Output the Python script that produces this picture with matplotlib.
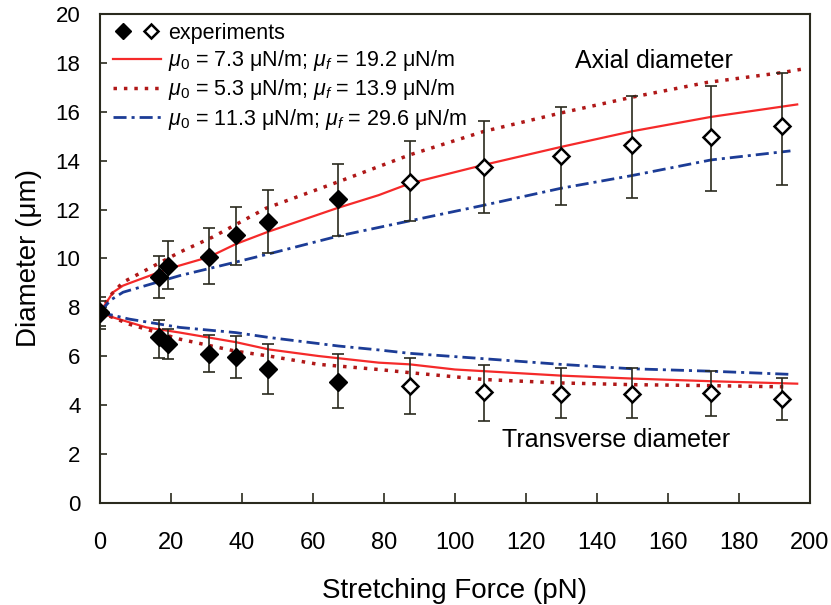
import numpy as np
import matplotlib
matplotlib.use('Agg')
import matplotlib.pyplot as plt
from matplotlib.lines import Line2D
from matplotlib.legend_handler import HandlerTuple

plt.rcParams['font.family'] = ['Liberation Sans', 'DejaVu Sans']
plt.rcParams['mathtext.fontset'] = 'custom'
plt.rcParams['mathtext.it'] = 'Liberation Sans:italic'
plt.rcParams['mathtext.rm'] = 'Liberation Sans'

# mesures (force en pN, diametres en um)
force = [0, 16.5, 19.3, 30.7, 38.4, 47.3, 67.0, 87.3, 108.2, 129.8, 149.8, 172.1, 192.1]
axial = [7.82, 9.23, 9.71, 10.08, 10.97, 11.5, 12.42, 13.14, 13.76, 14.21, 14.65, 14.97, 15.41]
axial_lo = [7.24, 8.38, 8.75, 8.96, 9.75, 10.23, 10.92, 11.54, 11.87, 12.18, 12.49, 12.76, 13.0]
axial_hi = [8.44, 10.1, 10.7, 11.26, 12.11, 12.81, 13.87, 14.79, 15.61, 16.2, 16.65, 17.05, 17.6]
trans = [7.78, 6.77, 6.49, 6.11, 5.98, 5.49, 4.95, 4.77, 4.53, 4.46, 4.46, 4.50, 4.25]
trans_lo = [7.11, 5.95, 5.90, 5.35, 5.12, 4.47, 3.87, 3.65, 3.36, 3.47, 3.47, 3.57, 3.40]
trans_hi = [8.27, 7.49, 7.11, 6.86, 6.83, 6.52, 6.08, 5.91, 5.64, 5.53, 5.53, 5.39, 5.12]
n_filled = 7  # les 7 premiers points en symboles pleins

# simulations, diametre axial
ax_red_f = [0, 3.7, 6.5, 8.3, 19.3, 30.7, 38.4, 47.3, 67.0, 78.5, 87.3, 108.2, 129.8, 149.8, 172.1, 196.4]
ax_red_d = [7.8, 8.62, 8.89, 8.99, 9.58, 10.06, 10.6, 11.09, 12.07, 12.59, 13.07, 13.83, 14.56, 15.2, 15.79, 16.3]
ax_dot_f = [0, 3.0, 6.5, 22.5, 31.8, 46.7, 67.2, 87.3, 108.2, 129.8, 150.0, 171.0, 192.0, 198.0]
ax_dot_d = [7.8, 8.5, 9.03, 10.26, 10.88, 12.05, 13.14, 14.24, 15.2, 15.95, 16.6, 17.2, 17.6, 17.75]
ax_blue_f = [0, 3.0, 6.5, 22.5, 38.2, 47.6, 67.2, 87.3, 108.2, 129.8, 149.8, 172.1, 194.5]
ax_blue_d = [7.8, 8.3, 8.62, 9.3, 9.85, 10.19, 10.92, 11.54, 12.18, 12.87, 13.39, 14.03, 14.4]

# simulations, diametre transverse
tr_red_f = [0, 3.7, 13.1, 22.5, 38.2, 47.6, 61.6, 78.5, 87.3, 100.0, 129.8, 149.8, 172.1, 196.4]
tr_red_d = [7.8, 7.59, 7.18, 6.97, 6.58, 6.28, 6.01, 5.74, 5.67, 5.46, 5.21, 5.09, 4.98, 4.88]
tr_dot_f = [0, 8.3, 22.5, 38.2, 47.6, 61.6, 78.5, 87.3, 108.2, 129.8, 149.8, 172.1, 192.7]
tr_dot_d = [7.8, 7.31, 6.7, 6.21, 6.01, 5.67, 5.46, 5.33, 5.05, 4.91, 4.84, 4.8, 4.75]
tr_blue_f = [0, 8.3, 22.5, 38.2, 47.6, 67.2, 78.5, 87.3, 108.2, 129.8, 149.8, 172.1, 194.6]
tr_blue_d = [7.8, 7.52, 7.18, 6.97, 6.77, 6.42, 6.26, 6.12, 5.9, 5.67, 5.49, 5.39, 5.26]

labels = [r'$\mu_0$ = 7.3 μN/m; $\mu_f$ = 19.2 μN/m',
          r'$\mu_0$ = 5.3 μN/m; $\mu_f$ = 13.9 μN/m',
          r'$\mu_0$ = 11.3 μN/m; $\mu_f$ = 29.6 μN/m']

red = '#f52a2a'
dred = '#b01818'
blue = '#1c3c96'
dark = '#2a2a1e'

fig = plt.figure(figsize=(8.31, 6.05), dpi=100)
ax = fig.add_axes([0.1203, 0.1686, 0.8544, 0.8083])

# courbes simulees
sty_red = dict(color=red, lw=1.6, zorder=2)
sty_dot = dict(color=dred, lw=2.5, ls=(0, (1.0, 2.0)), zorder=2)
sty_blue = dict(color=blue, lw=2.0, ls=(0, (4.7, 1.8, 1.1, 1.8)), zorder=2)
l1, = ax.plot(ax_red_f, ax_red_d, **sty_red)
l2, = ax.plot(ax_dot_f, ax_dot_d, **sty_dot)
l3, = ax.plot(ax_blue_f, ax_blue_d, **sty_blue)
ax.plot(tr_red_f, tr_red_d, **sty_red)
ax.plot(tr_dot_f, tr_dot_d, **sty_dot)
ax.plot(tr_blue_f, tr_blue_d, **sty_blue)

# barres d'erreur + points experimentaux
f = np.array(force)
for d, lo, hi in [(axial, axial_lo, axial_hi), (trans, trans_lo, trans_hi)]:
    d = np.array(d)
    yerr = [d - np.array(lo), np.array(hi) - d]
    ax.errorbar(f, d, yerr=yerr, fmt='none', ecolor=dark, elinewidth=1.2,
                capsize=4, capthick=1.2, zorder=3)
    ax.plot(f[:n_filled], d[:n_filled], 'D', ms=9, mfc='black', mec='black', zorder=4)
    ax.plot(f[n_filled:], d[n_filled:], 'D', ms=8, mfc='white', mec='black',
            mew=1.8, zorder=4)

ax.text(133.8, 17.8, 'Axial diameter', fontsize=18, ha='left', va='baseline')
ax.text(113.2, 2.3, 'Transverse diameter', fontsize=18, ha='left', va='baseline')

ax.set_xlim(0, 200)
ax.set_ylim(0, 20)
ax.set_xticks(np.arange(0, 201, 20))
ax.set_yticks(np.arange(0, 21, 2))
ax.tick_params(axis='x', direction='in', length=7, width=1.2, pad=21, labelsize=17, colors=dark, labelcolor='black')
ax.tick_params(axis='y', direction='in', length=5, width=1.2, pad=14, labelsize=16, colors=dark, labelcolor='black')
for s in ax.spines.values():
    s.set_color(dark)
    s.set_linewidth(1.5)

ax.set_xlabel('Stretching Force (pN)', fontsize=20, labelpad=17)
ax.set_ylabel('Diameter (μm)', fontsize=20, labelpad=10)

# legende
h_full = Line2D([], [], marker='D', ms=8, color='black', ls='none')
h_open = Line2D([], [], marker='D', ms=7, mfc='white', mec='black', mew=1.8, ls='none')
leg = ax.legend([(h_full, h_open), l1, l2, l3], ['experiments'] + labels,
                handler_map={tuple: HandlerTuple(ndivide=None, pad=0.3)},
                loc='upper left', bbox_to_anchor=(0.018, 0.982), frameon=False,
                fontsize=15.5, handlelength=2.25, handletextpad=0.33,
                borderpad=0, borderaxespad=0, labelspacing=0.2)

fig.savefig('out.png', dpi=100)
